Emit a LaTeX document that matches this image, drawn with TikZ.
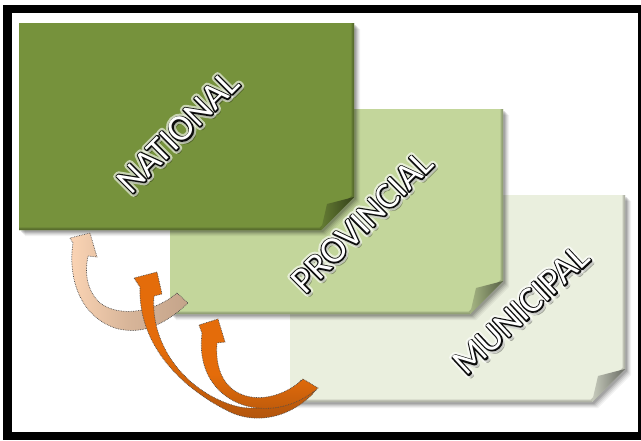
\documentclass[tikz,border=0pt]{standalone}
\usepackage{fontspec}
\newfontfamily\lblfont{Carlito}
\definecolor{natgreen}{RGB}{118,146,60}
\definecolor{provgreen}{RGB}{195,214,155}
\definecolor{munigreen}{RGB}{234,239,222}
\definecolor{orangeA}{RGB}{228,108,10}
\definecolor{orangeB}{RGB}{172,82,12}
\definecolor{peachA}{RGB}{252,213,181}
\definecolor{peachB}{RGB}{196,164,138}

% sheet with folded bottom-right corner: x1,y1,x2,y2,colour
\newcommand\drawsheet[5]{%
  \foreach \s/\o in {6/0.05,5/0.06,4/0.08,3/0.10,2/0.12}{
    \fill[black,opacity=\o] (#1+\s,#2+\s) -- (#3+\s,#2+\s) -- (#3+\s,#4-33+\s) -- (#3-33+\s,#4+\s) -- (#1+\s,#4+\s) -- cycle;}
  \fill[#5] (#1,#2) -- (#3,#2) -- (#3,#4-33) -- (#3-33,#4) -- (#1,#4) -- cycle;
  \begin{scope}
    \clip (#1,#2) -- (#3,#2) -- (#3,#4-33) -- (#3-33,#4) -- (#1,#4) -- cycle;
    \draw[#5!60!black, line width=5pt, opacity=0.45] (#3,#2) -- (#3,#4-33) -- (#3-33,#4) -- (#1,#4);
    \draw[#5!70!black, line width=2pt, opacity=0.5] (#3,#2) -- (#3,#4-33) -- (#3-33,#4) -- (#1,#4);
  \end{scope}
  \shade[left color=#5!85!black, right color=#5!45!black] (#3,#4-33) -- (#3-27,#4-26) -- (#3-33,#4) -- cycle;
}

% stroke-only text layers (text render mode 1)
\newcommand\shadowtext[1]{\special{pdf:code 2 Tr 2.6 w 1 j 0 0 0 RG}#1}
\newcommand\glowtext[1]{\special{pdf:code 1 Tr 7 w 1 j 1 1 1 RG}#1}
\newcommand\edgetext[1]{\special{pdf:code 1 Tr 2.6 w 1 j 0.05 0.05 0.05 RG}#1}

% layered label: name, x, y, angle, text
\newcommand\layeredlabel[5]{%
  \node[lbl, text=black, opacity=0.3, rotate=#4] (#1shadow) at (#2+2,#3+2.5) {\shadowtext{#5}};
  \node[lbl, opacity=0.6, rotate=#4] (#1glow) at (#2,#3) {\glowtext{#5}};
  \node[lbl, rotate=#4] (#1edge) at (#2,#3) {\edgetext{#5}};
  \node[lbl, rotate=#4] (#1) at (#2,#3) {#5};
}

\begin{document}
\begin{tikzpicture}[x=1pt,y=-1pt,
  lbl/.style={font=\lblfont\fontsize{37}{37}\selectfont, inner sep=0pt, text=white},
  arrowline/.style={draw=black!70, densely dotted, line width=0.7pt}]
\useasboundingbox (0,0) rectangle (641,440);
\fill[white] (0,0) rectangle (641,440);
\fill[black] (3,5) rectangle (641,440);
\fill[white] (12,13) rectangle (638,432);

\drawsheet{290}{195}{625}{402}{munigreen}
\drawsheet{170}{109}{503}{314}{provgreen}
\drawsheet{19}{23}{354}{230}{natgreen}

\layeredlabel{municipal}{521}{310}{43}{MUNICIPAL}
\layeredlabel{provincial}{362}{222}{45}{PROVINCIAL}
\layeredlabel{national}{178}{132}{45}{NATIONAL}

% peach arrow
\shadedraw[arrowline, left color=peachA, right color=peachB, middle color=peachA!35!peachB]
  (177,293) .. controls (155,312) and (120,318) .. (100,303)
  .. controls (88,292) and (84,275) .. (88,256)
  -- (97,257) -- (90,233) -- (70,238) -- (73,243)
  .. controls (68,275) and (78,315) .. (115,328)
  .. controls (145,337) and (170,320) .. (188,303) -- cycle;

% big orange arrow
\shadedraw[arrowline, top color=orangeA, bottom color=orangeB, middle color=orangeA]
  (301,380) .. controls (290,400) and (265,415) .. (232,405)
  .. controls (185,390) and (150,345) .. (154,296)
  -- (162,294) -- (157,272) -- (134,278) -- (140,287)
  .. controls (138,340) and (175,385) .. (230,412)
  .. controls (265,428) and (300,410) .. (316,390) -- cycle;

% small orange arrow
\shadedraw[arrowline, top color=orangeA, bottom color=orangeB, middle color=orangeA]
  (303,379) .. controls (270,410) and (212,405) .. (217,343)
  -- (225,342) -- (218,319) -- (199,325) -- (202,333)
  .. controls (193,405) and (270,430) .. (318,388) -- cycle;
\end{tikzpicture}
\end{document}
